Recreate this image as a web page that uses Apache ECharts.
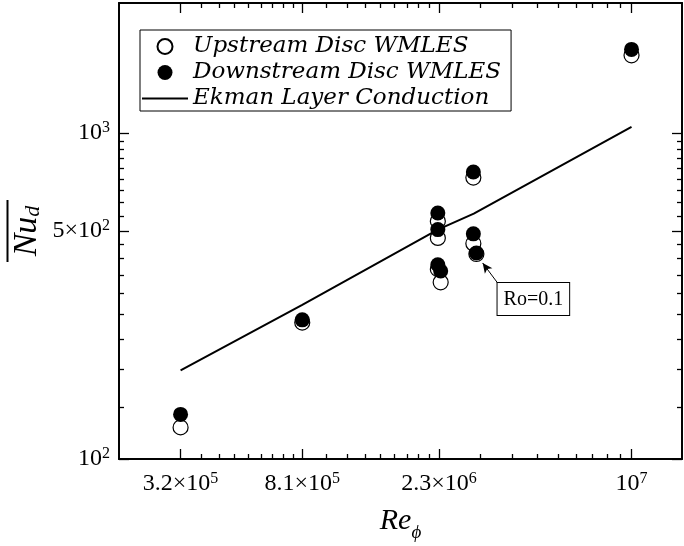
<!DOCTYPE html>
<html><head><meta charset="utf-8">
<script src="https://cdn.jsdelivr.net/npm/echarts@6/dist/echarts.min.js"></script>
<style>html,body{margin:0;padding:0;background:#fff}#c{width:684px;height:546px}</style>
</head><body><div id="c"></div>
<script>
// ---- data ----
const xTickValues = [3.2e5, 8.1e5, 2.3e6, 1e7];
const xTickLabels = ['3.2×10{s|5}', '8.1×10{s|5}', '2.3×10{s|6}', '10{s|7}'];
const yTickValues = [100, 500, 1000];
const yTickLabels = ['10{s|2}', '5×10{s|2}', '10{s|3}'];

const caseRe   = [3.2e5, 8.1e5, 2.28e6, 2.28e6, 2.28e6, 2.33e6, 2.99e6, 2.99e6, 3.06e6, 1e7];
const upNu     = [125,   262,   536,    476,    382,    348,    729,    458,    425,    1728];
const downNu   = [137,   267,   568,    505,    394,    377,    758,    490,    428,    1802];

const ekmanRe  = [3.2e5, 8.1e5, 2.28e6, 3.0e6, 1e7];
const ekmanNu  = [187,   297,   505,    565,   1042];

const annotText = 'Ro=0.1';
const annotTail = [3.61e6, 345];
const annotHead = [3.21e6, 399];

const xRange = [2e5, 1.47e7];
const yRange = [100, 2500];

// ---- helpers ----
const L = Math.log10;
function minors(majors) {
  const out = [];
  for (let i = 0; i < majors.length - 1; i++) {
    const a = majors[i], b = majors[i + 1];
    for (let k = 1; k <= 8; k++) out.push(a + (b - a) * k / 9);
  }
  return out;
}
const xMajLog = xTickValues.map(L), xMinLog = minors(xTickValues).map(L);
const yMajLog = yTickValues.map(L), yMinLog = minors(yTickValues).map(L);
function nearestLabel(vals, labels) {
  return function (v) {
    let best = 0, d = Infinity;
    vals.forEach((t, i) => { const dd = Math.abs(t - v); if (dd < d) { d = dd; best = i; } });
    return labels[best];
  };
}
const serif = 'Liberation Serif';
const rich = { s: { fontSize: 16, fontFamily: serif, color: '#000', verticalAlign: 'top', lineHeight: 13 } };
const hidden = { axisLine: { show: false }, axisTick: { show: false }, axisLabel: { show: false }, splitLine: { show: false } };

function tickAxis(kind, pos, vals, len, withLabels, extra) {
  const isX = kind === 'x';
  const base = {
    type: 'value', position: pos, gridIndex: 0,
    min: L(isX ? xRange[0] : yRange[0]), max: L(isX ? xRange[1] : yRange[1]),
    axisLine: { show: true, onZero: false, lineStyle: { color: '#000', width: 1.5 } },
    splitLine: { show: false },
    axisTick: { show: true, inside: true, length: len, customValues: vals, lineStyle: { color: '#000', width: 1.3 } },
    axisLabel: { show: false }
  };
  if (withLabels) {
    base.axisLabel = {
      show: true, customValues: vals, color: '#000', fontFamily: serif, fontSize: 24, lineHeight: 26,
      margin: isX ? 12 : 9,
      formatter: nearestLabel(vals, isX ? xTickLabels : yTickLabels), rich: rich
    };
  }
  return Object.assign(base, extra || {});
}

const option = {
  animation: false,
  backgroundColor: '#fff',
  grid: { left: 119, right: 2, top: 3, bottom: 87, outerBoundsMode: 'none', containLabel: false,
          show: true, borderColor: '#000', borderWidth: 1.5, backgroundColor: 'transparent' },
  legend: {
    orient: 'vertical', left: 140, top: 30,
    borderColor: '#000', borderWidth: 1, padding: [5, 10, 1, 2], itemGap: 3,
    itemWidth: 46, itemHeight: 15,
    textStyle: { fontFamily: 'DejaVu Serif', fontStyle: 'italic', fontSize: 23, color: '#000' },
    data: ['Upstream Disc WMLES', 'Downstream Disc WMLES',
      { name: 'Ekman Layer Conduction', icon: 'path://M0,0L46,0L46,2L0,2Z', itemStyle: { color: '#000' } }]
  },
  xAxis: [
    Object.assign({ type: 'log', logBase: 10, min: xRange[0], max: xRange[1] }, hidden),
    tickAxis('x', 'bottom', xMajLog, 10, true, {
      name: '{a|Re}{b|ϕ}', nameLocation: 'middle', nameGap: 47, nameMoveOverlap: false,
      nameTextStyle: { rich: {
        a: { fontFamily: serif, fontStyle: 'italic', fontSize: 30, color: '#000', verticalAlign: 'top', lineHeight: 30 },
        b: { fontFamily: serif, fontStyle: 'italic', fontSize: 19, color: '#000', verticalAlign: 'bottom', lineHeight: 30, padding: [0, 0, -6, 0] } } }
    }),
    tickAxis('x', 'bottom', xMinLog, 5, false),
    tickAxis('x', 'top', xMajLog, 10, false),
    tickAxis('x', 'top', xMinLog, 5, false)
  ],
  yAxis: [
    Object.assign({ type: 'log', logBase: 10, min: yRange[0], max: yRange[1] }, hidden),
    tickAxis('y', 'left', yMajLog, 10, true, {
      name: '{ol| }\n{a|Nu}{b|d}', nameLocation: 'middle', nameGap: 75, nameRotate: 90, nameMoveOverlap: false,
      nameTextStyle: { align: 'center', rich: {
        ol: { width: 62, height: 2, lineHeight: 5, backgroundColor: '#000', fontSize: 2 },
        a: { fontFamily: serif, fontStyle: 'italic', fontSize: 34, color: '#000', lineHeight: 34, verticalAlign: 'top' },
        b: { fontFamily: serif, fontStyle: 'italic', fontSize: 22, color: '#000', lineHeight: 34, verticalAlign: 'bottom' } } }
    }),
    tickAxis('y', 'left', yMinLog, 5, false),
    tickAxis('y', 'right', yMajLog, 10, false),
    tickAxis('y', 'right', yMinLog, 5, false)
  ],
  series: [
    {
      name: 'Ekman Layer Conduction', type: 'line', xAxisIndex: 0, yAxisIndex: 0, z: 1,
      symbol: 'none', showSymbol: false,
      lineStyle: { color: '#000', width: 2 }, itemStyle: { color: '#000' },
      data: ekmanRe.map((r, i) => [r, ekmanNu[i]])
    },
    {
      name: 'Upstream Disc WMLES', type: 'scatter', xAxisIndex: 0, yAxisIndex: 0, z: 2,
      symbol: 'circle', symbolSize: 15,
      itemStyle: { color: '#fff', borderColor: '#000', borderWidth: 1.2, opacity: 1 },
      data: caseRe.map((r, i) => [r, upNu[i]])
    },
    {
      name: 'Downstream Disc WMLES', type: 'scatter', xAxisIndex: 0, yAxisIndex: 0, z: 3,
      symbol: 'circle', symbolSize: 15,
      itemStyle: { color: '#000', opacity: 1 },
      data: caseRe.map((r, i) => [r, downNu[i]]),
      markLine: {
        silent: true, animation: false, symbolSize: [7, 10],
        lineStyle: { color: '#000', width: 1, type: 'solid' }, label: { show: false },
        data: [[{ coord: annotTail, symbol: 'none' }, { coord: annotHead, symbol: 'arrow' }]]
      },
      markPoint: {
        silent: true, animation: false,
        data: [{
          coord: annotTail, symbol: 'rect', symbolSize: 1, itemStyle: { color: 'rgba(0,0,0,0)' },
          label: {
            show: true, formatter: annotText, position: [0, 0], align: 'left', verticalAlign: 'top',
            fontFamily: serif, fontSize: 20, lineHeight: 22, color: '#000',
            backgroundColor: '#fff', borderColor: '#000', borderWidth: 1, padding: [6, 6, 4, 6]
          }
        }]
      }
    }
  ]
};
const chart = echarts.init(document.getElementById('c'), null, { renderer: 'canvas' });
chart.setOption(option);
</script></body></html>
